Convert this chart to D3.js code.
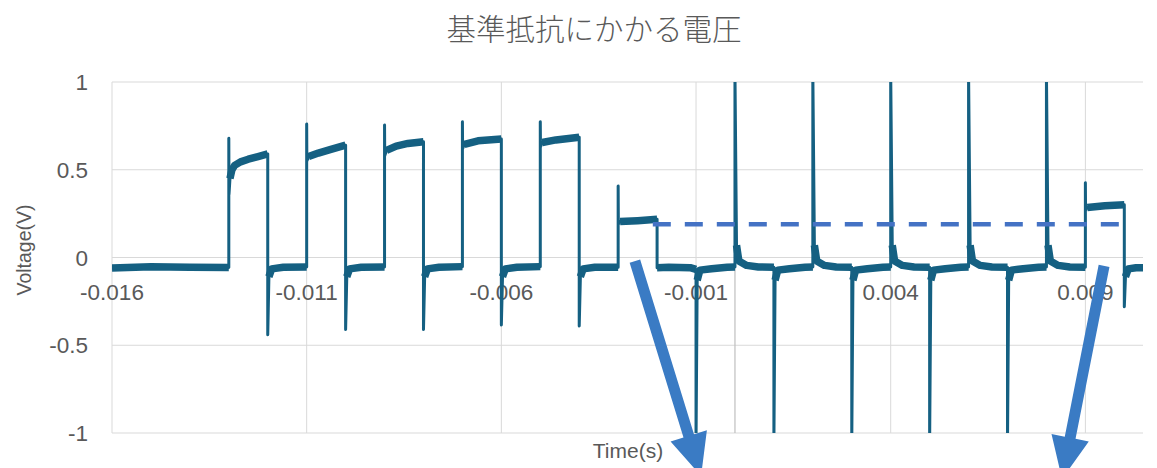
<!DOCTYPE html>
<html>
<head>
<meta charset="utf-8">
<script src="https://cdn.jsdelivr.net/npm/d3@7"></script>
<style>
  html, body { margin: 0; padding: 0; background: #ffffff; }
  svg { display: block; }
</style>
</head>
<body>
<svg id="chart" width="1157" height="468"></svg>
<script>
// ---- data ---------------------------------------------------------------
const chartTitle = "基準抵抗にかかる電圧";
const xTitle = "Time(s)";
const yTitle = "Voltage(V)";

const xDomain = [-0.016, 0.01048];
const yDomain = [-1, 1];

const xTicks = [-0.016, -0.011, -0.006, -0.001, 0.004, 0.009];
const xTickLabels = ["-0.016", "-0.011", "-0.006", "-0.001", "0.004", "0.009"];
const yTicks = [-1, -0.5, 0, 0.5, 1];
const yTickLabels = ["-1", "-0.5", "0", "0.5", "1"];

// oscilloscope trace: [time (s), voltage (V)]
const trace = [
  [-0.0160, -0.060], [-0.0150, -0.053], [-0.0140, -0.056], [-0.0130, -0.057],
  // pulse 1
  [-0.0130, 0.680], [-0.012995, 0.360], [-0.01297, 0.450], [-0.01292, 0.500],
  [-0.01285, 0.525], [-0.01270, 0.545], [-0.01250, 0.560], [-0.01225, 0.575],
  [-0.0120, 0.590], [-0.0120, -0.440], [-0.01197, -0.110], [-0.01190, -0.065],
  [-0.01160, -0.056], [-0.0110, -0.054],
  // pulse 2
  [-0.0110, 0.760], [-0.010995, 0.550], [-0.01095, 0.575], [-0.01070, 0.595],
  [-0.01040, 0.615], [-0.0100, 0.640], [-0.0100, -0.410], [-0.00997, -0.110],
  [-0.00990, -0.065], [-0.00960, -0.056], [-0.0090, -0.054],
  // pulse 3
  [-0.0090, 0.755], [-0.008995, 0.580], [-0.00895, 0.610], [-0.00870, 0.635],
  [-0.00840, 0.650], [-0.0080, 0.660], [-0.0080, -0.410], [-0.00797, -0.110],
  [-0.00790, -0.065], [-0.00760, -0.056], [-0.0070, -0.052],
  // pulse 4
  [-0.0070, 0.774], [-0.006995, 0.620], [-0.00695, 0.645], [-0.00660, 0.665],
  [-0.0060, 0.675], [-0.0060, -0.385], [-0.00597, -0.110], [-0.00590, -0.065],
  [-0.00560, -0.056], [-0.0050, -0.052],
  // pulse 5
  [-0.0050, 0.774], [-0.004995, 0.630], [-0.00495, 0.655], [-0.00460, 0.670],
  [-0.0040, 0.685], [-0.0040, -0.390], [-0.00397, -0.110], [-0.00390, -0.065],
  [-0.00360, -0.056], [-0.0030, -0.056],
  // pulse 6 (reduced level)
  [-0.0030, 0.407], [-0.002995, 0.190], [-0.00295, 0.205], [-0.00250, 0.210],
  [-0.0020, 0.218], [-0.0020, -0.058], [-0.00170, -0.056], [-0.00115, -0.058],
  [-0.0010, -0.068],
  // alternating edge spikes
  [-0.0010, -1.05], [-0.00097, -0.130], [-0.00090, -0.072], [-0.00060, -0.064],
  [-0.00020, -0.056], [0.0000, -0.054],
  [0.0000, 1.05], [0.00004, 0.070], [0.00010, -0.020], [0.00030, -0.045],
  [0.00060, -0.054], [0.0010, -0.056],
  [0.0010, -1.05], [0.00103, -0.130], [0.00110, -0.072], [0.00140, -0.064],
  [0.00180, -0.056], [0.0020, -0.054],
  [0.0020, 1.05], [0.00204, 0.070], [0.00210, -0.020], [0.00230, -0.045],
  [0.00260, -0.054], [0.0030, -0.056],
  [0.0030, -1.05], [0.00303, -0.130], [0.00310, -0.072], [0.00340, -0.064],
  [0.00380, -0.056], [0.0040, -0.054],
  [0.0040, 1.05], [0.00404, 0.070], [0.00410, -0.020], [0.00430, -0.045],
  [0.00460, -0.054], [0.0050, -0.056],
  [0.0050, -1.05], [0.00503, -0.130], [0.00510, -0.072], [0.00540, -0.064],
  [0.00580, -0.056], [0.0060, -0.054],
  [0.0060, 1.05], [0.00604, 0.070], [0.00610, -0.020], [0.00630, -0.045],
  [0.00660, -0.054], [0.0070, -0.056],
  [0.0070, -1.05], [0.00703, -0.130], [0.00710, -0.072], [0.00740, -0.064],
  [0.00780, -0.056], [0.0080, -0.054],
  [0.0080, 1.05], [0.00804, 0.070], [0.00810, -0.020], [0.00830, -0.045],
  [0.00860, -0.054], [0.0090, -0.056],
  // final pulse
  [0.0090, 0.426], [0.009005, 0.270], [0.00905, 0.285], [0.00950, 0.295],
  [0.0100, 0.300], [0.0100, -0.280], [0.01003, -0.110], [0.01010, -0.065],
  [0.01030, -0.058], [0.01048, -0.058]
];

// dashed reference level
const refLevel = 0.19;
const refSpan = [-0.00211, 0.01009];

// annotation arrows: [tail, tip] in data units
const arrows = [
  [[-0.00257, -0.020], [-0.00087, -1.245]],
  [[0.00948, -0.048], [0.00840, -1.262]]
];

// ---- layout -------------------------------------------------------------
const plot = { left: 112, top: 82, right: 1143, bottom: 433 };
const svg = d3.select("#chart");

const x = d3.scaleLinear().domain(xDomain).range([plot.left, plot.right]);
const y = d3.scaleLinear().domain(yDomain).range([plot.bottom, plot.top]);

const textGray = "#595959";
const gridGray = "#d9d9d9";
const traceColor = "#156082";
const tickFont = "'Liberation Sans', Arial, sans-serif";

svg.append("defs").append("clipPath").attr("id", "plotClip")
  .append("rect")
  .attr("x", plot.left).attr("y", plot.top)
  .attr("width", plot.right - plot.left).attr("height", plot.bottom - plot.top);

// gridlines
svg.append("g").selectAll("line").data(yTicks).join("line")
  .attr("x1", plot.left).attr("x2", plot.right)
  .attr("y1", d => y(d)).attr("y2", d => y(d))
  .attr("stroke", gridGray).attr("stroke-width", 1);

svg.append("g").selectAll("line").data(xTicks).join("line")
  .attr("x1", d => x(d)).attr("x2", d => x(d))
  .attr("y1", plot.top).attr("y2", plot.bottom)
  .attr("stroke", gridGray).attr("stroke-width", 1);

// vertical axis line crossing at t = 0
svg.append("line")
  .attr("x1", x(0)).attr("x2", x(0))
  .attr("y1", plot.top).attr("y2", plot.bottom)
  .attr("stroke", "#bfbfbf").attr("stroke-width", 1.2);

// tick labels
svg.append("g").selectAll("text").data(yTicks).join("text")
  .attr("x", 88).attr("y", d => y(d))
  .attr("dy", "0.36em")
  .attr("text-anchor", "end")
  .attr("font-family", tickFont).attr("font-size", 22.5)
  .attr("fill", textGray)
  .text((d, i) => yTickLabels[i]);

svg.append("g").selectAll("text").data(xTicks).join("text")
  .attr("x", d => x(d)).attr("y", 299.5)
  .attr("text-anchor", "middle")
  .attr("font-family", tickFont).attr("font-size", 22.5)
  .attr("fill", textGray)
  .text((d, i) => xTickLabels[i]);

// trace
const traceG = svg.append("g").attr("clip-path", "url(#plotClip)");
const line = d3.line().x(d => x(d[0])).y(d => y(d[1]));

// slow (noisy) portions of the trace drawn as a wider band
const runs = [];
let run = null;
for (let i = 1; i < trace.length; i++) {
  const slow = trace[i][0] - trace[i - 1][0] >= 0.00005;
  if (slow) {
    if (!run) { run = [trace[i - 1]]; runs.push(run); }
    run.push(trace[i]);
  } else {
    run = null;
  }
}
traceG.selectAll("path.band").data(runs).join("path")
  .attr("class", "band")
  .attr("d", line)
  .attr("fill", "none")
  .attr("stroke", traceColor)
  .attr("stroke-width", 7.5)
  .attr("stroke-linejoin", "round")
  .attr("stroke-linecap", "butt");

traceG.append("path")
  .datum(trace)
  .attr("d", line)
  .attr("fill", "none")
  .attr("stroke", traceColor)
  .attr("stroke-width", 3)
  .attr("stroke-linejoin", "round");

// dashed reference level
svg.append("line")
  .attr("x1", x(refSpan[0])).attr("x2", x(refSpan[1]))
  .attr("y1", y(refLevel)).attr("y2", y(refLevel))
  .attr("stroke", "#4472c4")
  .attr("stroke-width", 4.5)
  .attr("stroke-dasharray", "18,14");

// block arrows
function arrowPath(tail, tip, shaftW, headW, headL) {
  const x0 = x(tail[0]), y0 = y(tail[1]);
  const x1 = x(tip[0]), y1 = y(tip[1]);
  const len = Math.hypot(x1 - x0, y1 - y0);
  const ux = (x1 - x0) / len, uy = (y1 - y0) / len;
  const px = -uy, py = ux;
  const bx = x1 - ux * headL, by = y1 - uy * headL;
  const pts = [
    [x0 + px * shaftW / 2, y0 + py * shaftW / 2],
    [bx + px * shaftW / 2, by + py * shaftW / 2],
    [bx + px * headW / 2, by + py * headW / 2],
    [x1, y1],
    [bx - px * headW / 2, by - py * headW / 2],
    [bx - px * shaftW / 2, by - py * shaftW / 2],
    [x0 - px * shaftW / 2, y0 - py * shaftW / 2]
  ];
  return "M" + pts.map(p => p.join(",")).join("L") + "Z";
}
svg.append("g").selectAll("path").data(arrows).join("path")
  .attr("d", d => arrowPath(d[0], d[1], 11, 38, 42))
  .attr("fill", "#3a7bc4");

// titles
svg.append("text")
  .attr("x", 594).attr("y", 40)
  .attr("text-anchor", "middle")
  .attr("font-family", "'Noto Sans CJK JP', sans-serif")
  .attr("font-weight", 300)
  .attr("font-size", 29.5)
  .attr("fill", textGray)
  .text(chartTitle);

svg.append("text")
  .attr("x", 628).attr("y", 458)
  .attr("text-anchor", "middle")
  .attr("font-family", tickFont).attr("font-size", 21)
  .attr("fill", textGray)
  .text(xTitle);

svg.append("text")
  .attr("transform", "translate(31,250) rotate(-90)")
  .attr("text-anchor", "middle")
  .attr("font-family", tickFont).attr("font-size", 19.5)
  .attr("fill", textGray)
  .text(yTitle);
</script>
</body>
</html>
